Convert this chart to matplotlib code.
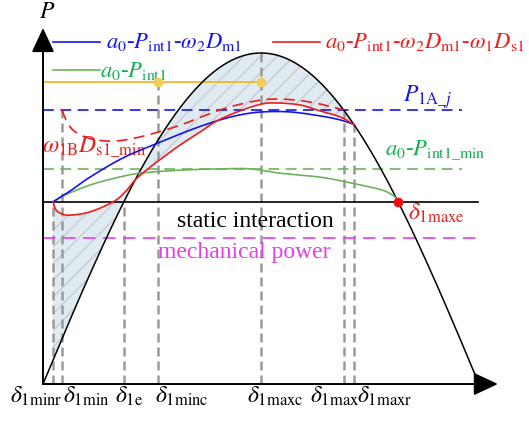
import numpy as np
import matplotlib
matplotlib.use("Agg")
import matplotlib.pyplot as plt

plt.rcParams['font.family'] = ['Liberation Serif', 'DejaVu Serif']
plt.rcParams['mathtext.fontset'] = 'stix'
plt.rcParams['hatch.color'] = '#c8ccd0'
plt.rcParams['hatch.linewidth'] = 1.0

# ---------------- data (delta in degrees, P in p.u.) ----------------
sine_delta = [0, 10, 20, 30, 40, 50, 60, 70, 80, 90, 100, 110, 120, 130, 140, 150, 160, 170, 180]
sine_P = [0.0, 0.174, 0.342, 0.500, 0.643, 0.766, 0.866, 0.940, 0.985, 1.0,
          0.985, 0.940, 0.866, 0.766, 0.643, 0.500, 0.342, 0.174, 0.0]

blue_delta = [4.1, 11.2, 19.4, 33.0, 47.5, 60.7, 71.8, 81.3, 90.4, 102.0, 114.4, 122.6, 128.4]
blue_P = [0.550, 0.583, 0.625, 0.683, 0.728, 0.767, 0.795, 0.813, 0.822, 0.822, 0.810, 0.798, 0.784]

red_delta = [4.1, 5.4, 7.8, 11.2, 19.4, 28.9, 33.9, 38.8, 47.1, 56.6, 64.8, 71.8, 81.3, 90.4,
             96.6, 106.1, 114.4, 122.6, 128.4]
red_P = [0.550, 0.526, 0.514, 0.510, 0.520, 0.550, 0.580, 0.622, 0.671, 0.722, 0.761, 0.795,
         0.825, 0.846, 0.849, 0.843, 0.825, 0.807, 0.784]

redd_delta = [7.8, 9.9, 12.4, 16.5, 22.3, 29.7, 38.0, 47.5, 57.8, 71.8, 85.5, 96.6, 110.2, 124.1]
redd_P = [0.828, 0.792, 0.767, 0.749, 0.737, 0.734, 0.743, 0.761, 0.785, 0.825, 0.852, 0.861,
          0.852, 0.828]

green_delta = [4.1, 9.1, 19.4, 29.7, 40.1, 56.6, 73.1, 85.5, 97.8, 114.4, 125.5, 135.0, 141.2,
               145.3, 146.6]
green_P = [0.550, 0.571, 0.601, 0.622, 0.637, 0.646, 0.650, 0.650, 0.637, 0.625, 0.610, 0.595,
           0.583, 0.565, 0.550]

P_yellow = 0.912
P_1Aj = 0.828
P_int1_min = 0.650
P_static = 0.550
P_mech = 0.441

vline_names = ['1minr', '1min', '1e', '1minc', '1maxc', '1max', '1maxr']
vline_delta = [4.1, 7.8, 33.4, 47.5, 90.0, 124.1, 128.4]
vline_top = [0.550, 0.828, 0.550, 0.912, 1.0, 0.828, 0.784]
delta_maxe = 146.6

# ---------------- helpers ----------------
def smooth(x, y, n=16):
    P = np.column_stack([np.asarray(x, float), np.asarray(y, float)])
    P = np.vstack([2 * P[0] - P[1], P, 2 * P[-1] - P[-2]])
    out = []
    t = np.linspace(0, 1, n, endpoint=False)[:, None]
    for i in range(1, len(P) - 2):
        p0, p1, p2, p3 = P[i - 1], P[i], P[i + 1], P[i + 2]
        out.append(0.5 * (2 * p1 + (-p0 + p2) * t + (2 * p0 - 5 * p1 + 4 * p2 - p3) * t ** 2
                          + (-p0 + 3 * p1 - 3 * p2 + p3) * t ** 3))
    out.append(P[-2][None])
    s = np.vstack(out)
    return s[:, 0], s[:, 1]

fig = plt.figure(figsize=(5.29, 4.23), dpi=100)
ax = fig.add_axes([0, 0, 1, 1])
ax.set_xlim(-17.75, 200.64)
ax.set_ylim(-0.1178, 1.1601)
ax.axis('off')

sx, sy = smooth(sine_delta, sine_P)
rx, ry = smooth(red_delta, red_P)
bx, by = smooth(blue_delta, blue_P)
gx, gy = smooth(green_delta, green_P)
dx, dy = smooth(redd_delta, redd_P)

# shaded region between red curve and sine
m = (sx > red_delta[0]) & (sx < red_delta[-1])
px_ = np.concatenate([rx, [red_delta[-1]], sx[m][::-1], [red_delta[0]]])
py_ = np.concatenate([ry, [np.interp(red_delta[-1], sx, sy)], sy[m][::-1],
                      [np.interp(red_delta[0], sx, sy)]])
ax.fill(px_, py_, facecolor='#dfeaf1', edgecolor='#c8ccd0', hatch='//', linewidth=0, zorder=1)

gray = '#9a9a9a'
for d, top in zip(vline_delta, vline_top):
    ax.plot([d, d], [0, top], color=gray, lw=1.8, ls=(0, (3.6, 2.0)), zorder=2)

# horizontal reference lines
ax.plot([0, 90.0], [P_yellow, P_yellow], color='#f2b928', lw=1.3, zorder=3)
ax.plot([0, 173.0], [P_1Aj, P_1Aj], color='#1515f0', lw=1.2, ls=(0, (6.5, 3.9)), zorder=3)
ax.plot([0, 173.0], [P_int1_min, P_int1_min], color='#6cb45a', lw=1.2, ls=(0, (6.5, 3.9)), zorder=3)
ax.plot([0, 179.6], [P_static, P_static], color='black', lw=1.2, zorder=3)
ax.plot([0, 179.6], [P_mech, P_mech], color='#e83ce8', lw=1.2, ls=(0, (7.5, 4.5)), zorder=3)

# curves
ax.plot(sx, sy, color='black', lw=1.1, zorder=4)
ax.plot(gx, gy, color='#6cb45a', lw=1.2, zorder=4)
ax.plot(bx, by, color='#1515f0', lw=1.2, zorder=5)
ax.plot(rx, ry, color='#ee1c1c', lw=1.2, zorder=5)
ax.plot(dx, dy, color='#ee1c1c', lw=1.2, ls=(0, (6.5, 3.9)), zorder=5)

ax.plot([vline_delta[3], vline_delta[4]], [P_yellow, P_yellow], 'o', color='#f5cc55', ms=6, zorder=6)
ax.plot([delta_maxe], [P_static], 'o', color='#e81010', ms=6, zorder=6)

# axes arrows
ax.annotate('', xy=(0, 1.0755), xytext=(0, 0),
            arrowprops=dict(arrowstyle='-|>,head_length=0.6,head_width=0.28', color='black',
                            lw=1.4, mutation_scale=25, shrinkA=0, shrinkB=0), zorder=7)
ax.annotate('', xy=(187.8, 0), xytext=(0, 0),
            arrowprops=dict(arrowstyle='-|>,head_length=0.6,head_width=0.28', color='black',
                            lw=1.4, mutation_scale=25, shrinkA=0, shrinkB=0), zorder=7)

fs = 17
fl = 16.3
ax.text(1.65, 1.106, r'$P$', fontsize=fs, ha='center', va='baseline')

# legend-like entries
ax.plot([4.1, 23.5], [1.033, 1.033], color='#1515f0', lw=1.2)
ax.text(26.0, 1.015, r'$a_0$-$P_{\mathrm{int1}}$-$\omega_2D_{\mathrm{m1}}$', color='#1515f0',
        fontsize=fl, ha='left', va='baseline')
ax.plot([4.1, 23.5], [0.949, 0.949], color='#6cb45a', lw=1.2)
ax.text(23.5, 0.927, r'$a_0$-$P_{\mathrm{int1}}$', color='#10b050', fontsize=fl,
        ha='left', va='baseline')
ax.plot([95.0, 114.4], [1.033, 1.033], color='#ee1c1c', lw=1.2)
ax.text(116.4, 1.015, r'$a_0$-$P_{\mathrm{int1}}$-$\omega_2D_{\mathrm{m1}}$-$\omega_1D_{\mathrm{s1}}$',
        color='#ee1c1c', fontsize=fl, ha='left', va='baseline')

ax.text(148.6, 0.852, r'$P_{\mathrm{1A\_}j}$', color='#1515f0', fontsize=fs, ha='left', va='baseline')
ax.text(141.2, 0.692, r'$a_0$-$P_{\mathrm{int1\_min}}$', color='#10b050', fontsize=fl,
        ha='left', va='baseline')
ax.text(-0.4, 0.698, r'$\omega_{\mathrm{1B}}D_{\mathrm{s1\_min}}$', color='#ee1c1c', fontsize=fs,
        ha='left', va='baseline')
ax.text(87.5, 0.474, 'static interaction', color='black', fontsize=fs, ha='center', va='baseline')
ax.text(83.0, 0.381, 'mechanical power', color='#e83ce8', fontsize=fs, ha='center', va='baseline')
ax.text(150.7, 0.495, r'$\delta_{\mathrm{1maxe}}$', color='#ee1c1c', fontsize=fs, ha='left',
        va='baseline')

label_left = [-13.6, 8.26, 29.7, 46.2, 84.2, 110.2, 129.6]
for name, xl in zip(vline_names, label_left):
    ax.text(xl, -0.057, r'$\delta_{\mathrm{%s}}$' % name, fontsize=fs, ha='left', va='baseline')

fig.savefig('out.png', dpi=100)
